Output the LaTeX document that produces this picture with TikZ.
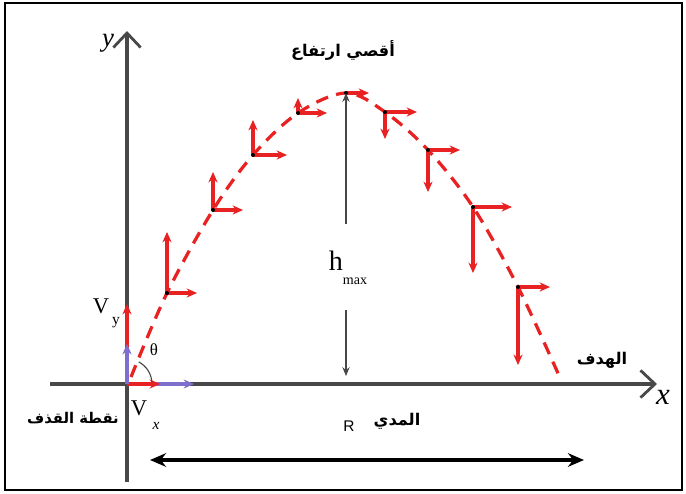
\documentclass[tikz,border=0pt]{standalone}
\usepackage{fontspec}
\setmainfont{Liberation Serif}
\newfontfamily\labelsans{Liberation Sans}
\newfontfamily\arabicfont[Script=Arabic]{DejaVu Sans}
\TeXXeTstate=1
\usepackage{xcolor}
\definecolor{vred}{RGB}{232,34,34}
\definecolor{vpurple}{RGB}{128,110,205}
\definecolor{axisgray}{RGB}{72,72,72}
\usetikzlibrary{arrows.meta,positioning}
\tikzset{
  axisline/.style={line width=2.3pt,draw=axisgray,%
    -{Straight Barb[length=3.6mm,width=6.8mm,line width=2pt]}},
  comp/.style={line width=2.5pt,draw=vred,-{Stealth[length=2.6mm,width=2.3mm]}},
  compv/.style={line width=2.5pt,draw=vpurple,-{Stealth[length=2.6mm,width=2.3mm]}},
  traj/.style={line width=2.3pt,draw=vred,dash pattern=on 9pt off 6pt},
  dimarrow/.style={line width=0.9pt,draw=axisgray,-{Stealth[length=2.2mm,width=1.8mm]}},
  rangearrow/.style={line width=2.8pt,%
    {Stealth[length=4mm,width=3.4mm]}-{Stealth[length=4mm,width=3.4mm]}},
  ar/.style={font=\arabicfont\bfseries\fontsize{11.5}{14}\selectfont,inner sep=0pt},
  lbl/.style={inner sep=0pt},
}

\begin{document}
\begin{tikzpicture}[x=0.025cm,y=-0.025cm]
\useasboundingbox (0,0) rectangle (686,494);
\draw[line width=1.6pt,fill=white] (5,3) rectangle (682,490);

% axes
\coordinate (O) at (127,384);
\coordinate (xl) at (50,384);
\coordinate (xr) at (657,384);
\coordinate (yb) at (127,482);
\coordinate (yt) at (127,31);
\draw[axisline] (xl) -- (xr);
\draw[axisline] (yb) -- (yt);
\node[lbl,font=\itshape\fontsize{19}{19}\selectfont] (ylab) at (108,43) {y};
\node[lbl,font=\itshape\fontsize{22}{22}\selectfont] (xlab) at (663,397) {x};

% trajectory
\coordinate (top) at (346,93);
\coordinate (land) at (561,380);
\draw[traj] plot[smooth,tension=0.55] coordinates {(131,377) (167,293) (213,210)
  (253,155) (298,113) (top) (385,112) (428,150) (473,207) (518,287) (land)};

% velocity components along the path
\foreach \n/\px/\py/\vy/\hx in {p1/167/293/232/197, p2/213/210/172/243,
    p3/253/155/120/287, p4/298/113/98/327, p6/385/112/139/417,
    p7/428/150/192/460, p8/473/207/273/512, p9/518/287/365/550}{
  \coordinate (\n) at (\px,\py);
  \draw[comp] (\n) -- (\hx,\py);
  \draw[comp] (\n) -- (\px,\vy);
  \fill (\n) circle (2);
}
\draw[comp] (top) -- (369,93);
\fill (top) circle (2);

% launch components
\draw[compv] (O) -- (194,384);
\draw[comp] (O) -- (160,384);
\draw[comp] (O) -- (127,304);
\draw[compv] (O) -- (127,344);
\draw[line width=0.8pt,axisgray] (O) ++(-4:25) arc (-4:-62:25);
\node[lbl,font=\fontsize{12}{12}\selectfont] (theta) at (154,350) {θ};
\node[lbl,font=\fontsize{16}{16}\selectfont] (vy) at (101,306) {V};
\node[lbl,font=\fontsize{11}{11}\selectfont] (vysub) at (116,323) {y};
\node[lbl,font=\fontsize{16}{16}\selectfont] (vx) at (139,408) {V};
\node[lbl,font=\itshape\fontsize{11}{11}\selectfont] (vxsub) at (156,426) {x};

% maximum height
\coordinate (hb) at (346,376);
\node[lbl] (hmax) at (348,268)
  {\fontsize{20}{20}\selectfont h\raisebox{-1.1ex}{\fontsize{10}{10}\selectfont max}};
\draw[dimarrow] (346,224) -- (top);
\draw[dimarrow] (346,310) -- (hb);

% range
\coordinate (ra) at (150,460);
\coordinate (rb) at (584,460);
\draw[rangearrow] (ra) -- (rb);
\node[lbl,font=\labelsans\fontsize{11}{11}\selectfont] (rlab) at (349,426) {R};

% arabic labels
\node[ar] (toplab) at (343,50) {\beginR أقصي ارتفاع\endR};
\node[ar,font=\arabicfont\bfseries\fontsize{10.5}{14}\selectfont] (launch) at (73,418) {\beginR نقطة القذف\endR};
\node[ar] (rangelab) at (397,421) {\beginR المدي\endR};
\node[ar] (target) at (602,360) {\beginR الهدف\endR};
\end{tikzpicture}
\end{document}
